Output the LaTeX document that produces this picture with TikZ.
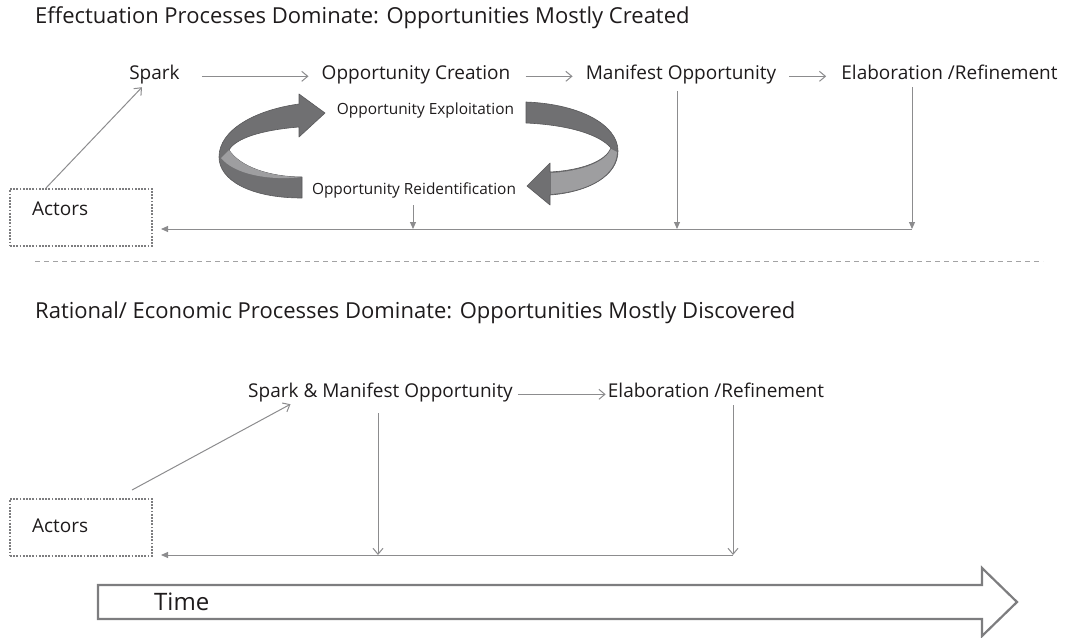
\documentclass[tikz,border=0pt]{standalone}
\usepackage{fontspec}
\setmainfont{Open Sans}
\usepackage{tikz}
\usetikzlibrary{arrows.meta,positioning}

\definecolor{txt}{RGB}{30,27,28}
\definecolor{lgray}{RGB}{140,140,142}
\definecolor{bgray}{RGB}{125,125,127}
\definecolor{rdark}{RGB}{112,112,114}
\definecolor{rlight}{RGB}{158,158,160}
\definecolor{redge}{RGB}{88,88,90}

\begin{document}
\begin{tikzpicture}[x=1pt,y=-1pt,
  every node/.style={text=txt,inner sep=0pt,anchor=base},
  hd/.style={font=\fontsize{22}{25}\selectfont,anchor=base west},
  lb/.style={font=\fontsize{19}{22}\selectfont,text depth=4pt},
  sm/.style={font=\fontsize{15.4}{18}\selectfont,text depth=3.5pt},
  box/.style={draw=bgray,dash pattern=on 1.8pt off 1.4pt,line width=2pt,anchor=center,
    minimum width=142pt,minimum height=57pt,text width=98pt,align=left,
    font=\fontsize{19}{22}\selectfont,text height=13pt},
  ln/.style={draw=lgray,line width=1pt},
  opn/.style={ln,-{Straight Barb[length=6pt,width=10pt]}},
  fil/.style={ln,-{Triangle[length=7pt,width=6pt]}},
  rib/.style={fill=rdark,draw=redge,line width=0.6pt,line join=round}]
  \useasboundingbox (0,0) rectangle (1067,637);

  % upper half: effectuation
  \node[hd] (h1) at (35,23) {Effectuation Processes Dominate: Opportunities Mostly Created};
  \node[lb] (sp) at (154.5,79) {Spark};
  \node[lb] (oc) at (416,79) {Opportunity Creation};
  \node[lb] (mo) at (681,79) {Manifest Opportunity};
  \node[lb] (el) at (949.5,79) {Elaboration /Refinement};
  \node[sm] (ex) at (425.5,114) {Opportunity Exploitation};
  \node[sm] (re) at (414,194) {Opportunity Reidentification};
  \node[box,text depth=18pt] (ac) at (81,217.5) {Actors};
  \coordinate (e1) at (912,229);
  \coordinate (e2) at (677,229);
  \coordinate (e3) at (413,229);

  \draw[opn,shorten <=22pt,shorten >=13pt] (sp.mid east) -- (oc.mid west);
  \draw[opn,shorten <=15pt,shorten >=13pt] (oc.mid east) -- (mo.mid west);
  \draw[opn,shorten <=13pt,shorten >=15pt] (mo.mid east) -- (el.mid west);
  \draw[opn] ([shift={(37,0)}]ac.north west) -- ([shift={(-12.5,4)}]sp.south);
  \draw[fil,shorten <=4pt] (e1 |- el.south) -- (e1);
  \draw[fil,shorten <=8pt] (e2 |- mo.south) -- (e2);
  \draw[fil,shorten <=7.5pt] (e3 |- re.south) -- (e3);
  \draw[fil,shorten >=8pt] (e1) -- (ac.east |- e1);

  % exploitation / reidentification loop
  \path[rib] (302,198) .. controls (250,198) and (219,180) .. (219,157)
    .. controls (219,130) and (255,110) .. (299,104) -- (299,94) -- (325,113)
    -- (299,137) -- (299,127) .. controls (262,130) and (236,138) .. (229,150)
    .. controls (240,167) and (270,177) .. (302,177) -- cycle;
  \path[fill=rlight] (229,150) .. controls (240,167) and (270,177) .. (302,177)
    .. controls (268,181) and (234,174) .. (221,158) -- cycle;
  \path[rib] (526,102) .. controls (580,104) and (618,125) .. (618,151)
    .. controls (618,175) and (590,192) .. (550,195) -- (550,205) -- (527,186)
    -- (550,163) -- (550,172) .. controls (585,170) and (606,160) .. (611,148)
    .. controls (600,135) and (570,125) .. (526,123) -- cycle;
  \path[fill=rlight] (611,149) .. controls (606,161) and (585,171) .. (551,173)
    -- (551,194) .. controls (590,191) and (616,175) .. (617,152) -- cycle;

  % separator
  \draw[lgray!80,dash pattern=on 5pt off 4pt,line width=0.8pt] (35,261) -- (1043,261);

  % lower half: rational / economic
  \node[hd] (h2) at (35,318) {Rational/ Economic Processes Dominate: Opportunities Mostly Discovered};
  \node[lb] (sm2) at (380.5,397) {Spark \& Manifest Opportunity};
  \node[lb] (el2) at (716,397) {Elaboration /Refinement};
  \node[box,text depth=4pt] (ac2) at (81,527.5) {Actors};
  \coordinate (f1) at (733,555);
  \coordinate (f2) at (378,555);

  \draw[opn,shorten <=5pt,shorten >=2pt] (sm2.mid east) -- (el2.mid west);
  \draw[opn] ([shift={(123,-8)}]ac2.north west) -- ([shift={(-90,3)}]sm2.south);
  \draw[opn,shorten <=4pt] (f1 |- el2.south) -- (f1);
  \draw[opn,shorten <=12pt] (f2 |- sm2.south) -- (f2);
  \draw[fil,shorten >=8pt] (f1) -- (ac2.east |- f1);

  % time axis
  \draw[draw=bgray,fill=white,line width=2.2pt,line join=miter]
    (98,585) -- (982,585) -- (982,568) -- (1017,602) -- (982,636) -- (982,619) -- (98,619) -- cycle;
  \node[font=\fontsize{24}{28}\selectfont,anchor=base west] (t) at (154,610) {Time};
\end{tikzpicture}
\end{document}
